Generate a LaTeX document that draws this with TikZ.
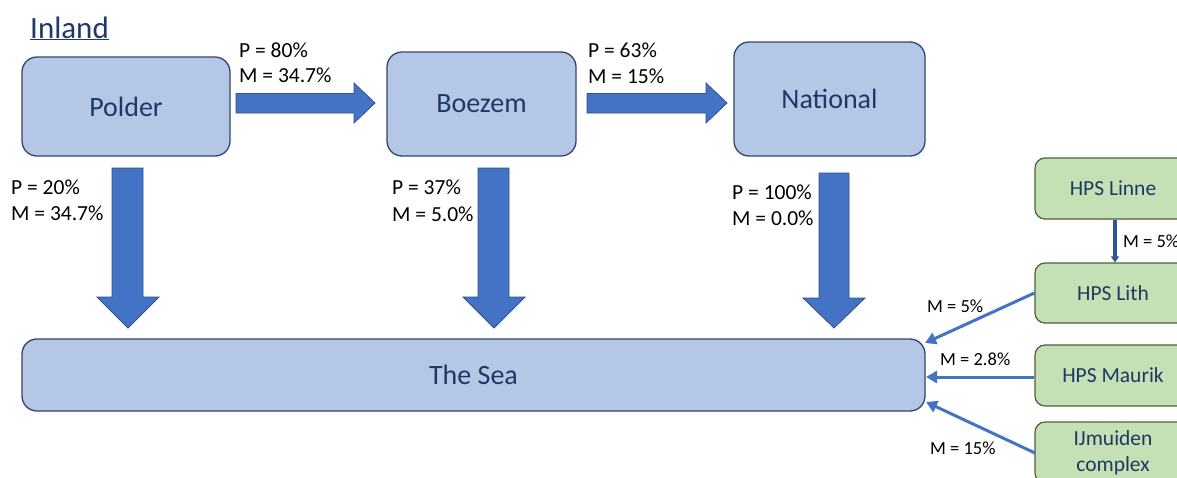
\documentclass[tikz,border=0pt]{standalone}
\usepackage{fontspec}
\setmainfont{Carlito}
\usetikzlibrary{arrows.meta}
\definecolor{boxfill}{HTML}{B4C7E7}
\definecolor{boxline}{HTML}{34466B}
\definecolor{txtblue}{HTML}{203864}
\definecolor{arrfill}{HTML}{4472C4}
\definecolor{arrline}{HTML}{2F528F}
\definecolor{grfill}{HTML}{C5E0B4}
\definecolor{grline}{HTML}{48613A}
\definecolor{darkarr}{HTML}{2F5597}
\begin{document}
\begin{tikzpicture}[x=1pt,y=-1pt,
  bluebox/.style={draw=boxline, line width=1.3pt, fill=boxfill, rounded corners=15pt,
    text=txtblue, font=\fontsize{28}{33}\selectfont, inner sep=0pt},
  greenbox/.style={draw=grline, line width=1.2pt, fill=grfill, rounded corners=10pt,
    text=txtblue, font=\fontsize{21.5}{26}\selectfont, inner sep=0pt, align=center,
    minimum width=156pt, minimum height=61pt},
  blockarr/.style={draw=arrline, line width=0.8pt, fill=arrfill},
  lbl/.style={anchor=base west, inner sep=0pt, font=\fontsize{21.5}{25}\selectfont},
  slbl/.style={anchor=base west, inner sep=0pt, font=\fontsize{18.5}{22}\selectfont},
  thinarr/.style={draw=arrfill, line width=3pt, -{Triangle[length=11pt,width=12pt]}}]
\useasboundingbox (0,0) rectangle (1177,477);
\clip (0,0) rectangle (1177,477);
\fill[white] (0,0) rectangle (1177,477);

% title
\node[anchor=base west, inner sep=0pt, text=txtblue, font=\fontsize{31}{36}\selectfont] (title) at (30,38) {\underline{Inland}};

% main boxes
\node[bluebox, minimum width=208pt, minimum height=99pt] (polder) at (126,106.5) {Polder};
\node[bluebox, minimum width=189pt, minimum height=104pt] (boezem) at (481.5,104) {Boezem};
\node[bluebox, minimum width=191pt, minimum height=114pt] (national) at (829.5,99) {National};
\node[bluebox, minimum width=903pt, minimum height=72pt] (sea) at (473.5,375) {The Sea};

% green boxes
\node[greenbox] (linne) at (1113,188.5) {HPS Linne};
\node[greenbox, minimum height=60pt] (lith) at (1113,293) {HPS Lith};
\node[greenbox] (maurik) at (1113,375.5) {HPS Maurik};
\node[greenbox] (ijm) at (1113,452.5) {IJmuiden\\complex};

% horizontal block arrows
\draw[blockarr] (236,93.5) -- (354,93.5) -- (354,83) -- (375,103) -- (354,123) -- (354,113) -- (236,113) -- cycle;
\draw[blockarr] (587,93.5) -- (706,93.5) -- (706,83) -- (727,103) -- (706,123) -- (706,113) -- (587,113) -- cycle;

% vertical block arrows
\draw[blockarr] (112,168) -- (143,168) -- (143,297) -- (159,297) -- (128,328) -- (97,297) -- (112,297) -- cycle;
\draw[blockarr] (478,168) -- (509,168) -- (509,297) -- (525,297) -- (494,328) -- (463,297) -- (478,297) -- cycle;
\draw[blockarr] (819,173) -- (849,173) -- (849,298) -- (865,298) -- (834,328) -- (803,298) -- (819,298) -- cycle;

% labels
\node[lbl] (l1) at (239,57) {P = 80\%};
\node[lbl] (l2) at (239,82) {M = 34.7\%};
\node[lbl] (l3) at (588,57) {P = 63\%};
\node[lbl] (l4) at (588,83) {M = 15\%};
\node[lbl] (l5) at (11,194) {P = 20\%};
\node[lbl] (l6) at (11,220) {M = 34.7\%};
\node[lbl] (l7) at (392,194) {P = 37\%};
\node[lbl] (l8) at (392,221) {M = 5.0\%};
\node[lbl] (l9) at (732,199) {P = 100\%};
\node[lbl] (l10) at (732,225) {M = 0.0\%};

% small labels
\node[slbl] (s1) at (1123,247) {M = 5\%};
\node[slbl] (s2) at (927,312) {M = 5\%};
\node[slbl] (s3) at (940,365) {M = 2.8\%};
\node[slbl] (s4) at (930,454) {M = 15\%};

% thin arrows
\coordinate (e1) at (925,343);
\coordinate (e2) at (926,377);
\coordinate (e3) at (926,402);
\draw[thinarr] (lith.west) -- (e1);
\draw[thinarr] (maurik.west |- e2) -- (e2);
\draw[thinarr] (1035,453) -- (e3);
\draw[draw=darkarr, line width=3.5pt, -{Triangle[length=6pt,width=8pt]}] ([xshift=2pt]linne.south) -- ([xshift=2pt]lith.north);
\end{tikzpicture}
\end{document}
